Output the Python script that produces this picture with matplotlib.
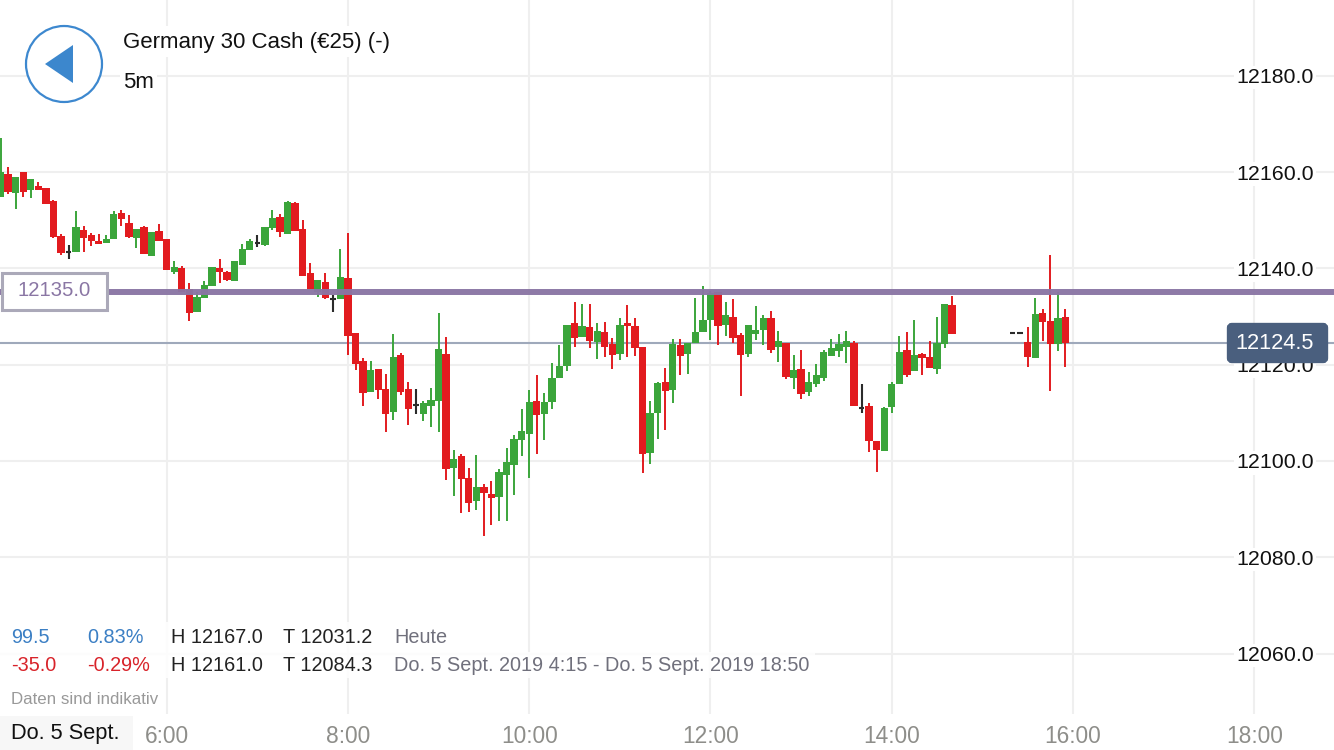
import numpy as np
import matplotlib
matplotlib.use("Agg")
import matplotlib.pyplot as plt
from matplotlib.patches import Circle, Polygon, Rectangle, FancyBboxPatch

nan = float("nan")

# 5 minute bars, the first one starts at 4:10
first_bar = 250
bar_step = 5

opens = [
    12154.9, 12159.7, 12155.7, 12160.0, 12156.2, 12157.1, 12156.7, 12154.1, 12146.7, 12143.5,
    12143.4, 12148.0, 12146.9, 12145.6, 12145.3, 12146.2, 12151.5, 12149.5, 12146.4, 12148.5,
    12142.6, 12147.7, 12146.2, 12139.3, 12140.0, 12135.7, 12130.9, 12133.9, 12136.4, 12140.0,
    12139.2, 12137.3, 12140.8, 12143.8, 12145.3, 12144.9, 12148.3, 12150.7, 12147.2, 12153.6,
    12148.2, 12139.0, 12135.0, 12137.2, 12133.6, 12133.6, 12138.1, 12126.5, 12120.7, 12114.3,
    12119.2, 12115.0, 12110.2, 12122.0, 12115.0, 12111.6, 12109.8, 12111.4, 12112.4, 12122.2,
    12098.6, 12101.0, 12096.5, 12091.7, 12094.5, 12093.2, 12092.6, 12097.1, 12099.1, 12104.3,
    12105.6, 12112.5, 12109.8, 12112.3, 12117.2, 12119.7, 12128.6, 12125.7, 12127.8, 12124.7,
    12126.8, 12124.3, 12122.2, 12128.6, 12128.1, 12123.6, 12101.7, 12110.0, 12116.5, 12114.8,
    12124.0, 12122.2, 12124.5, 12126.8, 12129.3, 12135.0, 12128.2, 12130.0, 12126.1, 12122.3,
    12126.4, 12127.3, 12129.6, 12123.7, 12124.6, 12117.3, 12119.2, 12114.3, 12115.9, 12117.3,
    12121.9, 12122.9, 12123.7, 12124.6, 12111.1, 12111.4, 12104.2, 12102.1, 12111.2, 12115.9,
    12123.0, 12118.6, 12122.2, 12121.5, 12119.2, 12124.2, 12132.5, nan, nan, nan,
    nan, nan, nan, nan, 12126.5, 12126.5, 12124.7, 12121.4, 12130.7, 12129.0,
    12124.2, 12130.0,
]
closes = [
    12160.0, 12155.9, 12159.0, 12155.9, 12158.5, 12156.2, 12153.4, 12146.6, 12143.3, 12143.5,
    12148.5, 12146.4, 12145.7, 12145.1, 12146.2, 12151.2, 12150.2, 12146.6, 12148.2, 12142.9,
    12147.6, 12145.7, 12139.7, 12140.2, 12135.2, 12130.7, 12134.1, 12136.5, 12140.2, 12139.2,
    12137.6, 12141.5, 12144.0, 12145.7, 12145.3, 12148.5, 12150.5, 12147.6, 12153.8, 12147.7,
    12138.4, 12135.7, 12137.5, 12133.8, 12133.6, 12138.2, 12125.9, 12120.1, 12114.2, 12119.0,
    12114.8, 12109.8, 12121.7, 12114.3, 12110.9, 12111.6, 12112.0, 12112.7, 12123.2, 12098.3,
    12100.5, 12096.3, 12091.3, 12094.7, 12093.3, 12092.3, 12097.7, 12099.7, 12104.5, 12106.2,
    12112.2, 12109.5, 12112.3, 12117.3, 12119.8, 12128.3, 12125.5, 12128.0, 12124.9, 12127.1,
    12123.7, 12122.0, 12128.3, 12128.0, 12123.5, 12101.5, 12110.0, 12116.3, 12114.5, 12124.3,
    12121.9, 12124.6, 12126.7, 12129.3, 12134.8, 12128.0, 12130.3, 12125.5, 12122.0, 12128.2,
    12127.3, 12129.8, 12123.0, 12124.9, 12117.4, 12118.8, 12114.0, 12116.5, 12117.8, 12122.6,
    12123.5, 12124.3, 12124.9, 12111.4, 12111.1, 12104.2, 12102.3, 12111.1, 12115.9, 12122.6,
    12117.9, 12122.0, 12121.4, 12119.3, 12124.6, 12132.7, 12126.4, nan, nan, nan,
    nan, nan, nan, nan, 12126.5, 12126.5, 12121.7, 12130.5, 12128.9, 12124.4,
    12129.6, 12124.5,
]
highs = [
    12167.1, 12161.0, 12159.0, 12160.0, 12158.5, 12157.9, 12156.8, 12154.3, 12147.1, 12144.9,
    12151.9, 12148.8, 12147.4, 12147.1, 12147.0, 12151.9, 12152.1, 12151.0, 12148.2, 12148.9,
    12147.6, 12149.3, 12146.2, 12141.5, 12140.5, 12137.0, 12135.0, 12137.3, 12140.3, 12142.0,
    12139.5, 12141.5, 12145.0, 12146.2, 12146.9, 12148.5, 12152.1, 12151.3, 12154.0, 12153.8,
    12150.1, 12141.1, 12137.5, 12139.0, 12134.5, 12144.0, 12147.3, 12126.5, 12121.3, 12120.8,
    12119.2, 12118.0, 12126.4, 12122.5, 12116.5, 12115.0, 12112.4, 12115.2, 12130.8, 12125.8,
    12102.3, 12101.5, 12098.5, 12101.2, 12095.2, 12095.8, 12098.3, 12102.8, 12105.3, 12110.7,
    12114.7, 12117.8, 12114.1, 12120.4, 12124.0, 12128.3, 12133.1, 12132.6, 12132.6, 12128.6,
    12128.9, 12125.5, 12129.6, 12132.3, 12129.6, 12123.6, 12112.5, 12116.5, 12119.4, 12125.3,
    12125.4, 12124.6, 12133.9, 12136.4, 12135.3, 12135.0, 12133.1, 12133.6, 12126.5, 12128.3,
    12132.1, 12130.4, 12131.1, 12127.1, 12124.6, 12122.1, 12123.1, 12118.5, 12120.1, 12123.1,
    12125.3, 12126.4, 12126.9, 12124.9, 12115.9, 12112.0, 12104.2, 12111.3, 12116.5, 12126.0,
    12126.7, 12129.2, 12122.5, 12124.9, 12130.0, 12132.7, 12134.3, nan, nan, nan,
    nan, nan, nan, nan, 12126.5, 12126.5, 12127.8, 12133.8, 12131.5, 12142.8,
    12135.0, 12131.5,
]
lows = [
    12154.9, 12155.4, 12152.4, 12154.9, 12154.6, 12156.2, 12153.4, 12146.4, 12142.8, 12141.9,
    12143.4, 12143.5, 12144.6, 12145.1, 12145.3, 12146.2, 12148.9, 12146.3, 12144.3, 12142.9,
    12142.6, 12145.7, 12139.7, 12138.9, 12135.2, 12129.0, 12130.9, 12133.9, 12136.4, 12137.0,
    12137.3, 12137.3, 12140.8, 12143.8, 12144.5, 12144.7, 12148.0, 12146.6, 12147.2, 12147.7,
    12138.4, 12135.7, 12134.1, 12133.6, 12131.0, 12133.6, 12122.1, 12118.8, 12111.4, 12114.3,
    12112.8, 12106.1, 12108.6, 12113.8, 12107.5, 12109.8, 12108.4, 12107.1, 12106.1, 12096.1,
    12092.8, 12089.1, 12089.5, 12089.9, 12084.4, 12086.8, 12087.5, 12087.5, 12093.0, 12101.0,
    12096.5, 12101.5, 12104.4, 12110.9, 12117.2, 12118.6, 12123.7, 12125.7, 12123.5, 12121.2,
    12121.7, 12119.2, 12121.0, 12121.7, 12121.9, 12097.6, 12099.4, 12104.6, 12106.4, 12112.1,
    12117.9, 12118.1, 12124.5, 12126.8, 12125.2, 12124.0, 12126.0, 12124.5, 12113.6, 12121.5,
    12125.2, 12124.0, 12122.5, 12120.6, 12117.1, 12115.0, 12112.9, 12113.6, 12115.4, 12116.6,
    12121.9, 12121.7, 12120.4, 12111.4, 12110.0, 12101.8, 12097.8, 12102.1, 12110.0, 12115.9,
    12117.5, 12118.6, 12117.9, 12119.3, 12118.0, 12123.5, 12126.4, nan, nan, nan,
    nan, nan, nan, nan, 12126.5, 12126.5, 12119.5, 12121.4, 12125.0, 12114.5,
    12122.8, 12119.6,
]

price_ticks = [12060, 12080, 12100, 12120, 12140, 12160, 12180]
time_ticks = [360, 480, 600, 720, 840, 960, 1080]
time_labels = ["6:00", "8:00", "10:00", "12:00", "14:00", "16:00", "18:00"]

alert_level = 12135.0
last_price = 12124.5

stats_rows = [
    ["99.5", "0.83%", "H 12167.0", "T 12031.2", "Heute"],
    ["-35.0", "-0.29%", "H 12161.0", "T 12084.3", "Do. 5 Sept. 2019 4:15 - Do. 5 Sept. 2019 18:50"],
]

RED = "#E21B1F"
GREEN = "#3BA53B"
DOJI = "#2B2B2B"
GRID = "#EFEFEF"
PURPLE = "#8A76A4"
FONT = "Liberation Sans"

plt.rcParams["font.family"] = [FONT, "DejaVu Sans"]

# x runs in minutes of the day, y in index points
px_per_min = 1.5105
px_per_point = 4.815
x_left = 360 - 166.7 / px_per_min
x_right = x_left + 1334 / px_per_min
y_top = 12100 + 461 / px_per_point
y_bottom = 12100 - 289 / px_per_point

fig = plt.figure(figsize=(13.34, 7.5), dpi=100)
ax = fig.add_axes([0, 0, 1, 1])
ax.set_xlim(x_left, x_right)
ax.set_ylim(y_bottom, y_top)
for s in ax.spines.values():
    s.set_visible(False)
ax.set_axisbelow(True)

o = np.array(opens)
c = np.array(closes)
h = np.array(highs)
l = np.array(lows)
t = first_bar + bar_step * np.arange(len(o))

up = c > o
down = c < o
flat = c == o

# grid, the vertical lines stop above the time labels
ax.set_yticks(price_ticks)
ax.set_yticklabels(["%.1f" % p for p in price_ticks])
ax.yaxis.tick_right()
ax.yaxis.grid(True, color=GRID, lw=1.5)
ax.tick_params(axis="y", length=0, pad=-14.5, labelsize=15.4, labelcolor="#111111")
for lab in ax.get_yticklabels():
    lab.set_ha("right")
    lab.set_bbox(dict(facecolor="white", edgecolor="none", pad=1.5))
ax.set_xticks(time_ticks)
ax.set_xticklabels(time_labels)
ax.tick_params(axis="x", length=0, pad=-17.8, labelsize=16.4, labelcolor="#8E8E8A")
ax.vlines(time_ticks, y_top - 714 / px_per_point, y_top, color=GRID, lw=1.5, zorder=0.4)

ax.hlines(last_price, x_left, x_right, color="#9FA9BB", lw=1.5, zorder=1.5)

# candles
body_w = 4.85
for mask, col in [(up, GREEN), (down, RED)]:
    ax.vlines(t[mask], l[mask], h[mask], color=col, lw=1.4, zorder=3)
    ax.bar(t[mask], np.abs(c[mask] - o[mask]), bottom=np.minimum(o[mask], c[mask]),
           width=body_w, color=col, linewidth=0, zorder=3)
ax.vlines(t[flat], l[flat], h[flat], color=DOJI, lw=1.5, zorder=3)
ax.hlines(o[flat], t[flat] - 1.8, t[flat] + 1.8, color=DOJI, lw=1.5, zorder=3)

ax.hlines(alert_level, x_left, x_right, color=PURPLE, lw=4.3, alpha=0.97, zorder=4)

# overlay in pixel units for the app chrome
ov = fig.add_axes([0, 0, 1, 1])
ov.set_xlim(0, 1334)
ov.set_ylim(750, 0)
ov.axis("off")

# back button
ov.add_patch(Circle((64, 64), 38, facecolor="white", edgecolor="#3D88CF", lw=1.6))
ov.add_patch(Polygon([(45, 64), (73, 45), (73, 83)], closed=True, facecolor="#3C87CD", edgecolor="none"))

ov.add_patch(Rectangle((120, 26), 275, 31, facecolor="white", edgecolor="none"))
ov.add_patch(Rectangle((120, 66), 37, 30, facecolor="white", edgecolor="none"))
ov.text(123, 42.5, "Germany 30 Cash (€25) (-)", fontsize=16, color="#111111", va="center", ha="left")
ov.text(123, 82, "5m", fontsize=16, color="#111111", va="center", ha="left")

# alert label
ov.add_patch(Rectangle((1.5, 272.5), 105.5, 37.5, facecolor="white", edgecolor="#ABA9B9", lw=2.2, zorder=5))
ov.text(54, 291, "%.1f" % alert_level, fontsize=14.6, color=PURPLE, va="center", ha="center", zorder=6)

# last price badge
ov.add_patch(FancyBboxPatch((1231, 327), 93, 32, boxstyle="round,pad=0,rounding_size=1", mutation_aspect=1,
                            facecolor="#4A5F7E", edgecolor="#4A5F7E", lw=6, zorder=5))
ov.text(1275, 343.5, "%.1f" % last_price, fontsize=15.7, color="white", va="center", ha="center", zorder=6)

# stats block
ov.add_patch(Rectangle((0, 622), 450, 30, facecolor="white", edgecolor="none", alpha=0.85))
ov.add_patch(Rectangle((0, 652), 815, 26, facecolor="white", edgecolor="none", alpha=0.85))
col_x = [11, 87, 171, 283, 394]
row_y = [637.5, 665.5]
row_col = ["#3B7FC4", "#D8232A"]
for row, y, first_col in zip(stats_rows, row_y, row_col):
    for i, (s, x) in enumerate(zip(row, col_x)):
        color = first_col if i < 2 else ("#222222" if i < 4 else "#70707C")
        ov.text(x, y, s, fontsize=14.35, color=color, va="center", ha="left")
ov.text(11, 700, "Daten sind indikativ", fontsize=12.2, color="#999999", va="center", ha="left")

ov.add_patch(Rectangle((0, 716), 133, 34, facecolor="#F7F7F7", edgecolor="none"))
ov.text(11, 734, "Do. 5 Sept.", fontsize=15.7, color="#111111", va="center", ha="left")

fig.savefig("out.png", dpi=100, facecolor="white")
